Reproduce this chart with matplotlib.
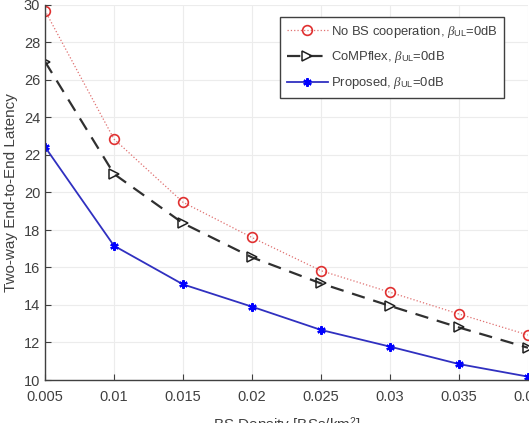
import numpy as np
import matplotlib.pyplot as plt

plt.rcParams['font.family'] = ['Liberation Sans', 'DejaVu Sans']
plt.rcParams['mathtext.fontset'] = 'custom'
plt.rcParams['mathtext.it'] = 'Liberation Serif:italic'
plt.rcParams['mathtext.rm'] = 'Liberation Sans'

density = [0.005, 0.01, 0.015, 0.02, 0.025, 0.03, 0.035, 0.04]
no_coop = [29.7, 22.85, 19.48, 17.6, 15.83, 14.68, 13.52, 12.4]
compflex = [26.98, 20.99, 18.36, 16.54, 15.15, 13.95, 12.8, 11.72]
proposed = [22.43, 17.16, 15.1, 13.91, 12.67, 11.78, 10.85, 10.18]
tick_labels = ['0.005', '0.01', '0.015', '0.02', '0.025', '0.03', '0.035', '0.04']

fig = plt.figure(figsize=(5.29, 4.23), dpi=100)
ax = fig.add_axes([45 / 529, 1 - 380 / 423, 483 / 529, 375 / 423])

ax.plot(density, no_coop, linestyle=':', color='#e07070', linewidth=0.9,
        marker='o', markersize=7, markerfacecolor='none', markeredgecolor='#e03030',
        markeredgewidth=1.2, label=r'No BS cooperation, $\beta_{\rm UL}$=0dB')
ax.plot(density, compflex, linestyle=(0, (6, 4)), color='#303030', linewidth=1.6,
        marker='>', markersize=7, markerfacecolor='none', markeredgecolor='#202020',
        markeredgewidth=1.1, label=r'CoMPflex, $\beta_{\rm UL}$=0dB')
ax.plot(density, proposed, linestyle='-', color='#3030c0', linewidth=1.3,
        marker=(6, 2, 0), markersize=6, markeredgewidth=1.6,
        markerfacecolor='#0000ff', markeredgecolor='#0000ff',
        label=r'Proposed, $\beta_{\rm UL}$=0dB')

ax.set_xlim(0.005, 0.04)
ax.set_ylim(10, 30)
ax.set_xticks(density)
ax.set_xticklabels(tick_labels)
ax.set_yticks(np.arange(10, 31, 2))
ax.grid(True, color='#ececec', linewidth=0.8)
ax.set_axisbelow(True)
for side in ['top', 'right']:
    ax.spines[side].set_visible(False)
for side in ['left', 'bottom']:
    ax.spines[side].set_color('#404040')
    ax.spines[side].set_linewidth(1.0)
ax.tick_params(direction='in', length=4, colors='#404040', labelsize=10.5, labelcolor='#404040')
ax.tick_params(axis='x', pad=7)

ax.set_ylabel('Two-way End-to-End Latency', fontsize=11, color='#404040', labelpad=4)
ax.set_xlabel(r'BS Density [BSs/km$^2$]', fontsize=11, color='#404040', labelpad=8)

leg = ax.legend(loc='upper left', bbox_to_anchor=((280 - 45) / 483, (380 - 17) / 375),
                fontsize=9.4, fancybox=False, edgecolor='#404040', framealpha=1,
                handlelength=3.2, handletextpad=0.2, borderpad=0.5, labelspacing=0.75,
                borderaxespad=0)
leg.get_frame().set_linewidth(1.0)
for t in leg.get_texts():
    t.set_color('#404040')

fig.savefig('out.png', dpi=100)
